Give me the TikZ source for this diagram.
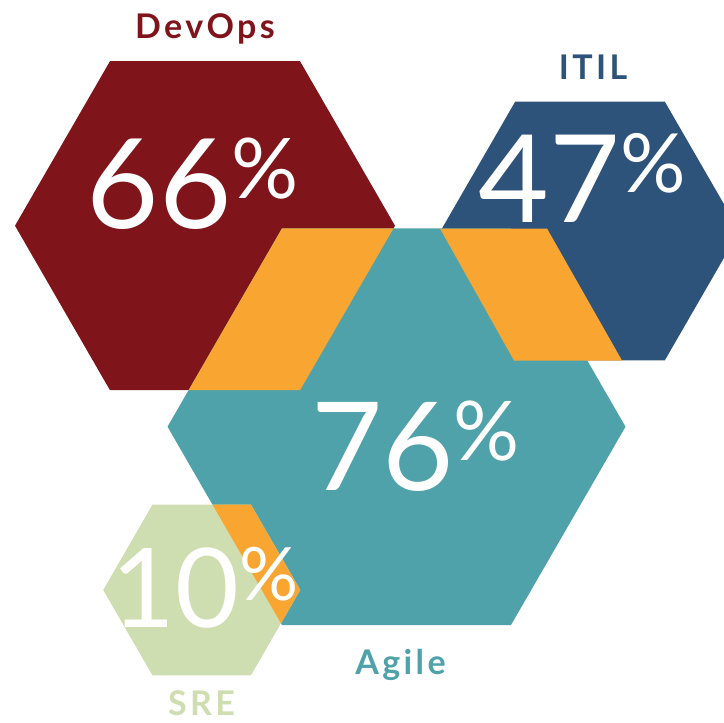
\documentclass[tikz,border=0pt]{standalone}
\usepackage{fontspec}
\usepackage{graphicx}
\setmainfont{Lato}
\newfontfamily\tagfont[LetterSpace=10]{Lato}
\usetikzlibrary{shapes.geometric}

\definecolor{devred}{HTML}{7F141A}
\definecolor{itilblue}{HTML}{2E537A}
\definecolor{agileteal}{HTML}{50A2AA}
\definecolor{sregreen}{HTML}{CFDEB0}
\definecolor{overlaporange}{HTML}{F8A532}

% value with a small raised percent sign
\newcommand{\pctval}[2]{{\fontsize{#2}{#2}\selectfont #1\raisebox{.24em}{\scalebox{.67}{\%}}}}

\tikzset{
  hexa/.style={regular polygon, regular polygon sides=6, draw=none, inner sep=0pt, outer sep=0pt, minimum size=#1},
  bignum/.style={text=white, inner sep=0pt, anchor=base},
  tag/.style={font=\tagfont\bfseries\fontsize{34}{34}\selectfont, inner sep=0pt, anchor=base},
  overlap/.style={fill=overlaporange}
}

\begin{document}
\begin{tikzpicture}[x=1pt,y=-1pt]
	\clip (0,0) rectangle (724,723);
	% Hexagons
	\node[hexa=380pt, fill=devred] (devops) at (205,225.7) {};
	\node[hexa=299pt, fill=itilblue] (itil) at (590,231) {};
	\node[hexa=458pt, fill=agileteal] (agile) at (396.5,426.7) {};
	\node[hexa=197pt, fill=sregreen] (sre) at (201.7,590) {};

	% Overlaps
	\begin{scope}
		\clip (devops.corner 1) \foreach \k in {2,...,6} {-- (devops.corner \k)} -- cycle;
		\fill[overlap] (agile.corner 1) \foreach \k in {2,...,6} {-- (agile.corner \k)} -- cycle;
	\end{scope}
	\begin{scope}
		\clip (sre.corner 1) \foreach \k in {2,...,6} {-- (sre.corner \k)} -- cycle;
		\fill[overlap] (agile.corner 1) \foreach \k in {2,...,6} {-- (agile.corner \k)} -- cycle;
	\end{scope}
	\fill[overlap] (440,228.5) -- (547,228.5) -- (622,360.5) -- (514,360.5) -- cycle;

	% Values
	\node[bignum] (devopsval) at (193,228) {\pctval{66}{125pt}};
	\node[bignum] (itilval) at (582.5,222) {\pctval{47}{122pt}};
	\node[bignum] (agileval) at (415.5,490) {\pctval{76}{123pt}};
	\node[bignum] (sreval) at (205,627) {\pctval{10}{110pt}};

	% Labels
	\node[tag, text=devred] (devopstag) at (205,38.3) {DevOps};
	\node[tag, text=itilblue] (itiltag) at (593,79.3) {ITIL};
	\node[tag, text=agileteal] (agiletag) at (400.5,674) {Agile};
	\node[tag, text=sregreen] (sretag) at (201.5,715) {SRE};
\end{tikzpicture}
\end{document}
